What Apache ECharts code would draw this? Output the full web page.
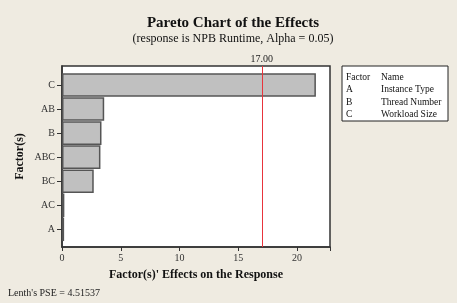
<!DOCTYPE html>
<html>
<head>
<meta charset="utf-8">
<script src="https://cdn.jsdelivr.net/npm/echarts@6/dist/echarts.min.js"></script>
<style>
html,body{margin:0;padding:0;background:#efebe1;}
#c{width:457px;height:303px;}
</style>
</head>
<body>
<div id="c"></div>
<script>
// Data (top to bottom)
var factors = ['C', 'AB', 'B', 'ABC', 'BC', 'AC', 'A'];
var effects = [21.6, 3.59, 3.36, 3.27, 2.7, 0.2, 0.18];
var xTicks = [0, 5, 10, 15, 20];
var criticalValue = 17.0;
var legendFactors = ['A', 'B', 'C'];
var legendNames = ['Instance Type', 'Thread Number', 'Workload Size'];
var pse = '4.51537';

var FONT = '"Liberation Serif", "Times New Roman", serif';
var chart = echarts.init(document.getElementById('c'), null, {renderer: 'canvas'});

var legendChildren = [{
  type: 'rect', shape: {x: 342, y: 66, width: 106, height: 55},
  style: {fill: '#ffffff', stroke: '#222', lineWidth: 1}
}, {
  type: 'text', style: {x: 346, y: 77, text: 'Factor', font: '9.5px ' + FONT, fill: '#111', textVerticalAlign: 'middle'}
}, {
  type: 'text', style: {x: 381, y: 77, text: 'Name', font: '9.5px ' + FONT, fill: '#111', textVerticalAlign: 'middle'}
}];
legendFactors.forEach(function (f, i) {
  var y = 89.5 + i * 12.5;
  legendChildren.push({type: 'text', style: {x: 346, y: y, text: f, font: '9.5px ' + FONT, fill: '#111', textVerticalAlign: 'middle'}});
  legendChildren.push({type: 'text', style: {x: 381, y: y, text: legendNames[i], font: '9.5px ' + FONT, fill: '#111', textVerticalAlign: 'middle'}});
});

var option = {
  backgroundColor: '#efebe1',
  animation: false,
  title: {
    text: 'Pareto Chart of the Effects',
    subtext: '(response is NPB Runtime, Alpha = 0.05)',
    left: 228, top: 11, textAlign: 'center', itemGap: 2,
    textStyle: {fontFamily: FONT, fontSize: 15, fontWeight: 'bold', color: '#111'},
    subtextStyle: {fontFamily: FONT, fontSize: 12, color: '#111'}
  },
  grid: [
    {left: 62, top: 66, width: 268, height: 181, show: true, backgroundColor: '#ffffff', borderColor: '#333', borderWidth: 1.5},
    {left: 62, top: 73, width: 268, height: 168.3, show: false}
  ],
  xAxis: [{
    gridIndex: 0, type: 'value', min: 0, max: 22.8, interval: 5,
    axisLine: {show: true, lineStyle: {color: '#333', width: 1.5}},
    axisTick: {show: true, length: 4, lineStyle: {color: '#333'}},
    splitLine: {show: false},
    axisLabel: {fontFamily: FONT, fontSize: 10, color: '#333', margin: 6,
      formatter: function (v) { return xTicks.indexOf(v) >= 0 ? String(v) : ''; }},
    name: "Factor(s)' Effects on the Response", nameLocation: 'middle', nameGap: 22,
    nameTextStyle: {fontFamily: FONT, fontSize: 12, fontWeight: 'bold', color: '#111'}
  }, {
    gridIndex: 1, type: 'value', min: 0, max: 22.8, show: false
  }],
  yAxis: [{
    gridIndex: 0, type: 'value', min: 0, max: 1,
    axisLine: {show: true, lineStyle: {color: '#333', width: 1.5}},
    axisTick: {show: false}, axisLabel: {show: false}, splitLine: {show: false},
    name: 'Factor(s)', nameLocation: 'middle', nameGap: 36, nameRotate: 90,
    nameTextStyle: {fontFamily: FONT, fontSize: 12, fontWeight: 'bold', color: '#111'}
  }, {
    gridIndex: 1, type: 'category', data: factors, inverse: true,
    axisLine: {show: false},
    axisTick: {show: true, alignWithLabel: true, length: 5, lineStyle: {color: '#333'}},
    axisLabel: {fontFamily: FONT, fontSize: 10, color: '#333', margin: 7},
    splitLine: {show: false}
  }],
  graphic: [{type: 'group', children: legendChildren}, {
    type: 'text', left: 8, top: 288,
    style: {text: "Lenth's PSE = " + pse, font: '10px ' + FONT, fill: '#222'}
  }],
  series: [{
    type: 'line', xAxisIndex: 0, yAxisIndex: 0, data: [], z: 1,
    markLine: {
      silent: true, symbol: 'none',
      lineStyle: {color: '#e8343c', width: 1, type: 'solid'},
      label: {show: true, position: 'end', formatter: '17.00', fontFamily: FONT, fontSize: 10, color: '#222', distance: 2},
      data: [{xAxis: criticalValue}]
    }
  }, {
    type: 'bar', xAxisIndex: 1, yAxisIndex: 1, data: effects, z: 3,
    barCategoryGap: '2%',
    itemStyle: {color: '#c0c0c0', borderColor: '#555', borderWidth: 1.5}
  }]
};
chart.setOption(option);
</script>
</body>
</html>
